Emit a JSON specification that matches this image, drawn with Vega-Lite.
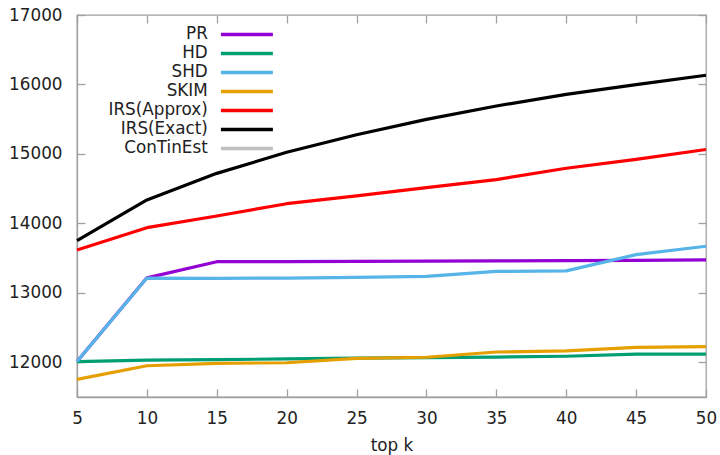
{
  "$schema": "https://vega.github.io/schema/vega-lite/v6.json",
  "width": 629,
  "height": 382,
  "autosize": "none",
  "padding": {"left": 77, "top": 15, "right": 14, "bottom": 58},
  "background": "white",
  "config": {
    "font": "DejaVu Sans",
    "view": {"stroke": "#a0a0a0", "strokeWidth": 1.3}
  },
  "data": {
    "values": [
      {"k": 5, "method": "PR", "v": 12010},
      {"k": 10, "method": "PR", "v": 13216},
      {"k": 15, "method": "PR", "v": 13448},
      {"k": 20, "method": "PR", "v": 13450},
      {"k": 25, "method": "PR", "v": 13452},
      {"k": 30, "method": "PR", "v": 13456},
      {"k": 35, "method": "PR", "v": 13460},
      {"k": 40, "method": "PR", "v": 13464},
      {"k": 45, "method": "PR", "v": 13468},
      {"k": 50, "method": "PR", "v": 13474},
      {"k": 5, "method": "HD", "v": 12010},
      {"k": 10, "method": "HD", "v": 12030},
      {"k": 15, "method": "HD", "v": 12038},
      {"k": 20, "method": "HD", "v": 12048},
      {"k": 25, "method": "HD", "v": 12060},
      {"k": 30, "method": "HD", "v": 12068},
      {"k": 35, "method": "HD", "v": 12075},
      {"k": 40, "method": "HD", "v": 12087},
      {"k": 45, "method": "HD", "v": 12116},
      {"k": 50, "method": "HD", "v": 12118},
      {"k": 5, "method": "SHD", "v": 12010},
      {"k": 10, "method": "SHD", "v": 13212},
      {"k": 15, "method": "SHD", "v": 13208},
      {"k": 20, "method": "SHD", "v": 13212},
      {"k": 25, "method": "SHD", "v": 13222},
      {"k": 30, "method": "SHD", "v": 13237},
      {"k": 35, "method": "SHD", "v": 13308},
      {"k": 40, "method": "SHD", "v": 13316},
      {"k": 45, "method": "SHD", "v": 13550},
      {"k": 50, "method": "SHD", "v": 13670},
      {"k": 5, "method": "SKIM", "v": 11754},
      {"k": 10, "method": "SKIM", "v": 11950},
      {"k": 15, "method": "SKIM", "v": 11985},
      {"k": 20, "method": "SKIM", "v": 11993},
      {"k": 25, "method": "SKIM", "v": 12057},
      {"k": 30, "method": "SKIM", "v": 12072},
      {"k": 35, "method": "SKIM", "v": 12148},
      {"k": 40, "method": "SKIM", "v": 12163},
      {"k": 45, "method": "SKIM", "v": 12215},
      {"k": 50, "method": "SKIM", "v": 12225},
      {"k": 5, "method": "IRS(Approx)", "v": 13616},
      {"k": 10, "method": "IRS(Approx)", "v": 13938},
      {"k": 15, "method": "IRS(Approx)", "v": 14106},
      {"k": 20, "method": "IRS(Approx)", "v": 14283},
      {"k": 25, "method": "IRS(Approx)", "v": 14396},
      {"k": 30, "method": "IRS(Approx)", "v": 14515},
      {"k": 35, "method": "IRS(Approx)", "v": 14630},
      {"k": 40, "method": "IRS(Approx)", "v": 14793},
      {"k": 45, "method": "IRS(Approx)", "v": 14922},
      {"k": 50, "method": "IRS(Approx)", "v": 15063},
      {"k": 5, "method": "IRS(Exact)", "v": 13750},
      {"k": 10, "method": "IRS(Exact)", "v": 14337},
      {"k": 15, "method": "IRS(Exact)", "v": 14720},
      {"k": 20, "method": "IRS(Exact)", "v": 15023},
      {"k": 25, "method": "IRS(Exact)", "v": 15275},
      {"k": 30, "method": "IRS(Exact)", "v": 15498},
      {"k": 35, "method": "IRS(Exact)", "v": 15690},
      {"k": 40, "method": "IRS(Exact)", "v": 15858},
      {"k": 45, "method": "IRS(Exact)", "v": 15997},
      {"k": 50, "method": "IRS(Exact)", "v": 16132}
    ]
  },
  "layer": [
    {
      "mark": {"type": "line", "strokeWidth": 3.2, "strokeJoin": "round"},
      "encoding": {
        "x": {
          "field": "k", "type": "quantitative",
          "scale": {"domain": [5, 50], "nice": false, "zero": false},
          "axis": {
            "orient": "bottom",
            "values": [5, 10, 15, 20, 25, 30, 35, 40, 45, 50],
            "grid": false, "domainColor": "#a0a0a0", "domainWidth": 1.3,
            "tickColor": "#a0a0a0", "tickSize": -8, "tickWidth": 1.3,
            "labelFontSize": 16.8, "labelColor": "#222", "labelPadding": 21,
            "labelFlush": false, "labelOverlap": false,
            "title": "top k", "titleFontSize": 16.8, "titleFontWeight": "normal",
            "titleColor": "#222", "titlePadding": 11
          }
        },
        "y": {
          "field": "v", "type": "quantitative",
          "scale": {"domain": [11500, 17000], "nice": false, "zero": false},
          "axis": {
            "orient": "left",
            "values": [12000, 13000, 14000, 15000, 16000, 17000],
            "grid": false, "domainColor": "#a0a0a0", "domainWidth": 1.3,
            "tickColor": "#a0a0a0", "tickSize": -8, "tickWidth": 1.3,
            "labelFontSize": 16.8, "labelColor": "#222", "labelPadding": 23,
            "labelFlush": false, "labelOverlap": false, "format": "d",
            "title": null
          }
        },
        "color": {
          "field": "method", "type": "nominal",
          "scale": {
            "domain": ["PR", "HD", "SHD", "SKIM", "IRS(Approx)", "IRS(Exact)", "ConTinEst"],
            "range": ["#9400d3", "#009e73", "#56b4e9", "#e69f00", "#ff0000", "#000000", "#c0c0c0"]
          },
          "legend": {
            "orient": "none", "legendX": 161.5, "legendY": 11,
            "title": null, "padding": 0,
            "symbolType": "M-6,0H6", "symbolSize": 75, "symbolStrokeWidth": 3.5,
            "labelAlign": "right", "labelOffset": -47.5,
            "labelFontSize": 16.8, "labelColor": "#222",
            "rowPadding": 1
          }
        }
      }
    },
    {
      "mark": {"type": "line", "opacity": 0},
      "encoding": {
        "x": {
          "field": "k", "type": "quantitative",
          "axis": {
            "orient": "top",
            "values": [5, 10, 15, 20, 25, 30, 35, 40, 45, 50],
            "grid": false, "domain": false, "labels": false,
            "tickColor": "#a0a0a0", "tickSize": -8, "tickWidth": 1.3, "title": null
          }
        },
        "y": {
          "field": "v", "type": "quantitative",
          "axis": {
            "orient": "right",
            "values": [12000, 13000, 14000, 15000, 16000, 17000],
            "grid": false, "domain": false, "labels": false,
            "tickColor": "#a0a0a0", "tickSize": -8, "tickWidth": 1.3, "title": null
          }
        },
        "detail": {"field": "method", "type": "nominal"}
      }
    }
  ],
  "resolve": {"axis": {"x": "independent", "y": "independent"}}
}
